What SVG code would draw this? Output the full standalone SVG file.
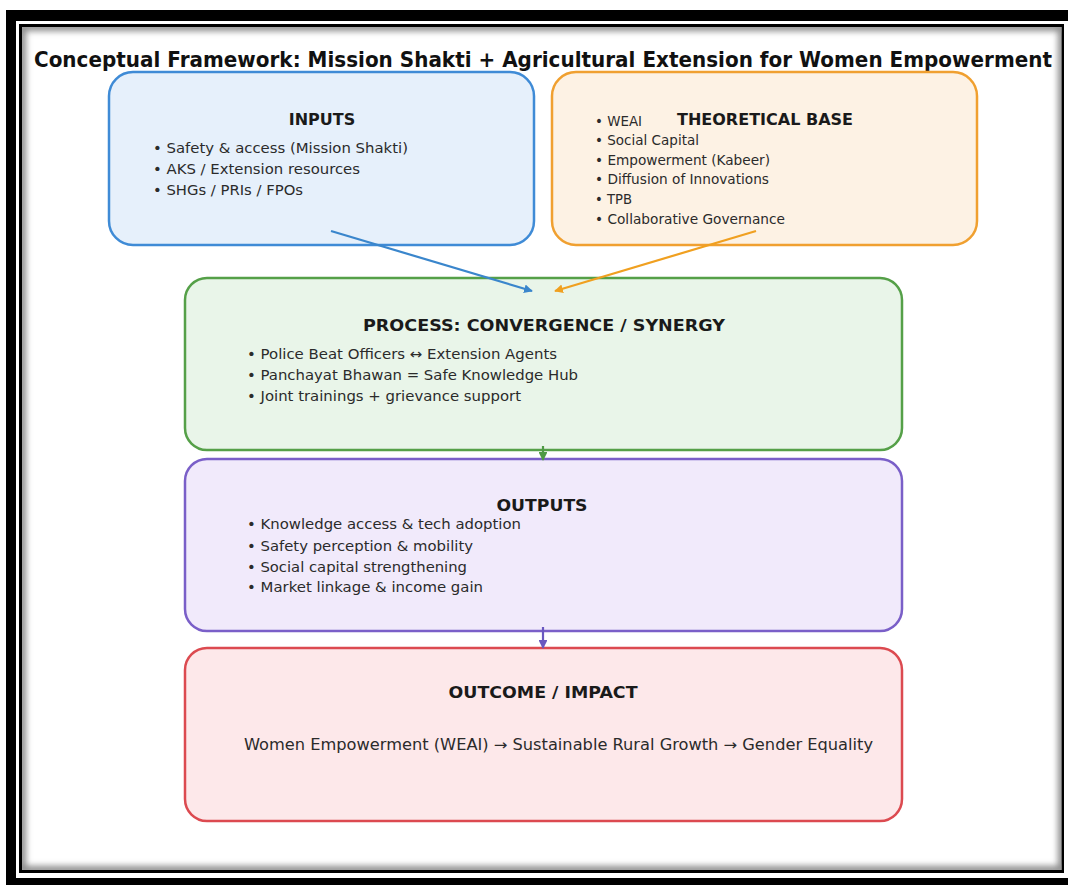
<svg xmlns="http://www.w3.org/2000/svg" width="1068" height="885" viewBox="0 0 1068 885">
  <defs>
    <style>
      .title { font-family: "DejaVu Sans", "Liberation Sans", sans-serif; font-weight: bold; font-size: 22px; fill: #111; }
      .head { font-family: "DejaVu Sans", "Liberation Sans", sans-serif; font-weight: bold; font-size: 16px; fill: #1a1a1a; }
      .item { font-family: "DejaVu Sans", "Liberation Sans", sans-serif; font-size: 14px; fill: #2b2b2b; }
      .box { stroke-width: 2.5; }
      .link { fill: none; stroke-width: 2.2; }
    </style>
    <clipPath id="inner">
      <rect x="22" y="27" width="1040" height="843"/>
    </clipPath>
    <filter id="soft" x="-5%" y="-5%" width="110%" height="110%">
      <feGaussianBlur stdDeviation="3"/>
    </filter>
    <marker id="headBlue" viewBox="0 0 10 10" refX="9" refY="5" markerWidth="4" markerHeight="4" orient="auto">
      <path d="M0,0 L10,5 L0,10 z" fill="#3a86cc"/>
    </marker>
    <marker id="headOrange" viewBox="0 0 10 10" refX="9" refY="5" markerWidth="4" markerHeight="4" orient="auto">
      <path d="M0,0 L10,5 L0,10 z" fill="#f0a020"/>
    </marker>
    <marker id="headGreen" viewBox="0 0 10 10" refX="9" refY="5" markerWidth="4" markerHeight="4" orient="auto">
      <path d="M0,0 L10,5 L0,10 z" fill="#4f9a45"/>
    </marker>
    <marker id="headPurple" viewBox="0 0 10 10" refX="9" refY="5" markerWidth="4" markerHeight="4" orient="auto">
      <path d="M0,0 L10,5 L0,10 z" fill="#6a58c0"/>
    </marker>
  </defs>

  <!-- page background and double picture frame -->
  <rect x="0" y="0" width="1068" height="885" fill="#ffffff"/>
  <rect x="6" y="10" width="1070" height="880" fill="#000"/>
  <rect x="16" y="21" width="1060" height="857" fill="#fff"/>
  <rect x="20.5" y="25.5" width="1042" height="846" fill="#fff" stroke="#000" stroke-width="3"/>
  <g clip-path="url(#inner)">
    <rect x="22" y="27" width="1040" height="843" fill="none" stroke="#8a8a8a" stroke-width="8" filter="url(#soft)"/>
  </g>

  <text class="title" x="543" y="67" text-anchor="middle" textLength="1018" lengthAdjust="spacingAndGlyphs">Conceptual Framework: Mission Shakti + Agricultural Extension for Women Empowerment</text>

  <g id="inputs">
    <rect class="box" x="109" y="72" width="425" height="173" rx="24" fill="#e6f0fb" stroke="#3f8bd6"/>
    <text class="head" x="322" y="125" text-anchor="middle">INPUTS</text>
    <text class="item" x="153" y="153" textLength="255" lengthAdjust="spacingAndGlyphs">• Safety &amp; access (Mission Shakti)</text>
    <text class="item" x="153" y="174" textLength="207" lengthAdjust="spacingAndGlyphs">• AKS / Extension resources</text>
    <text class="item" x="153" y="195" textLength="150" lengthAdjust="spacingAndGlyphs">• SHGs / PRIs / FPOs</text>
  </g>

  <g id="theory">
    <rect class="box" x="552" y="72" width="425" height="173" rx="24" fill="#fdf2e4" stroke="#f0a030"/>
    <text class="head" x="765" y="125" text-anchor="middle" textLength="176" lengthAdjust="spacingAndGlyphs">THEORETICAL BASE</text>
    <text class="item" x="595" y="126" textLength="47" lengthAdjust="spacingAndGlyphs">• WEAI</text>
    <text class="item" x="595" y="145" textLength="104" lengthAdjust="spacingAndGlyphs">• Social Capital</text>
    <text class="item" x="595" y="165" textLength="175" lengthAdjust="spacingAndGlyphs">• Empowerment (Kabeer)</text>
    <text class="item" x="595" y="184" textLength="174" lengthAdjust="spacingAndGlyphs">• Diffusion of Innovations</text>
    <text class="item" x="595" y="204" textLength="37" lengthAdjust="spacingAndGlyphs">• TPB</text>
    <text class="item" x="595" y="224" textLength="190" lengthAdjust="spacingAndGlyphs">• Collaborative Governance</text>
  </g>

  <g id="process">
    <rect class="box" x="185" y="278" width="717" height="172" rx="22" fill="#e9f5e9" stroke="#55a048"/>
    <text class="head" x="544" y="331" text-anchor="middle" textLength="362" lengthAdjust="spacingAndGlyphs">PROCESS: CONVERGENCE / SYNERGY</text>
    <text class="item" x="247" y="359" textLength="310" lengthAdjust="spacingAndGlyphs">• Police Beat Officers ↔ Extension Agents</text>
    <text class="item" x="247" y="380" textLength="331" lengthAdjust="spacingAndGlyphs">• Panchayat Bhawan = Safe Knowledge Hub</text>
    <text class="item" x="247" y="401" textLength="274" lengthAdjust="spacingAndGlyphs">• Joint trainings + grievance support</text>
  </g>

  <g id="outputs">
    <rect class="box" x="185" y="459" width="717" height="172" rx="22" fill="#f1eafb" stroke="#7a5fc8"/>
    <text class="head" x="542" y="511" text-anchor="middle" textLength="91" lengthAdjust="spacingAndGlyphs">OUTPUTS</text>
    <text class="item" x="247" y="529" textLength="274" lengthAdjust="spacingAndGlyphs">• Knowledge access &amp; tech adoption</text>
    <text class="item" x="247" y="551" textLength="226" lengthAdjust="spacingAndGlyphs">• Safety perception &amp; mobility</text>
    <text class="item" x="247" y="572" textLength="220" lengthAdjust="spacingAndGlyphs">• Social capital strengthening</text>
    <text class="item" x="247" y="592" textLength="236" lengthAdjust="spacingAndGlyphs">• Market linkage &amp; income gain</text>
  </g>

  <g id="outcome">
    <rect class="box" x="185" y="648" width="717" height="173" rx="22" fill="#fde8ea" stroke="#dc4a50"/>
    <text class="head" x="543" y="698" text-anchor="middle" textLength="189" lengthAdjust="spacingAndGlyphs">OUTCOME / IMPACT</text>
    <text class="item" x="244" y="750" style="font-size:15px" textLength="629" lengthAdjust="spacingAndGlyphs">Women Empowerment (WEAI) → Sustainable Rural Growth → Gender Equality</text>
  </g>

  <!-- connectors, drawn over the boxes -->
  <g id="connectors">
    <line class="link" x1="331" y1="231" x2="532" y2="291" stroke="#3a86cc" marker-end="url(#headBlue)"/>
    <line class="link" x1="756" y1="231" x2="555" y2="291" stroke="#f0a020" marker-end="url(#headOrange)"/>
    <line class="link" x1="543" y1="446" x2="543" y2="460" stroke="#4f9a45" marker-end="url(#headGreen)"/>
    <line class="link" x1="543" y1="627" x2="543" y2="648" stroke="#6a58c0" marker-end="url(#headPurple)"/>
  </g>
</svg>
